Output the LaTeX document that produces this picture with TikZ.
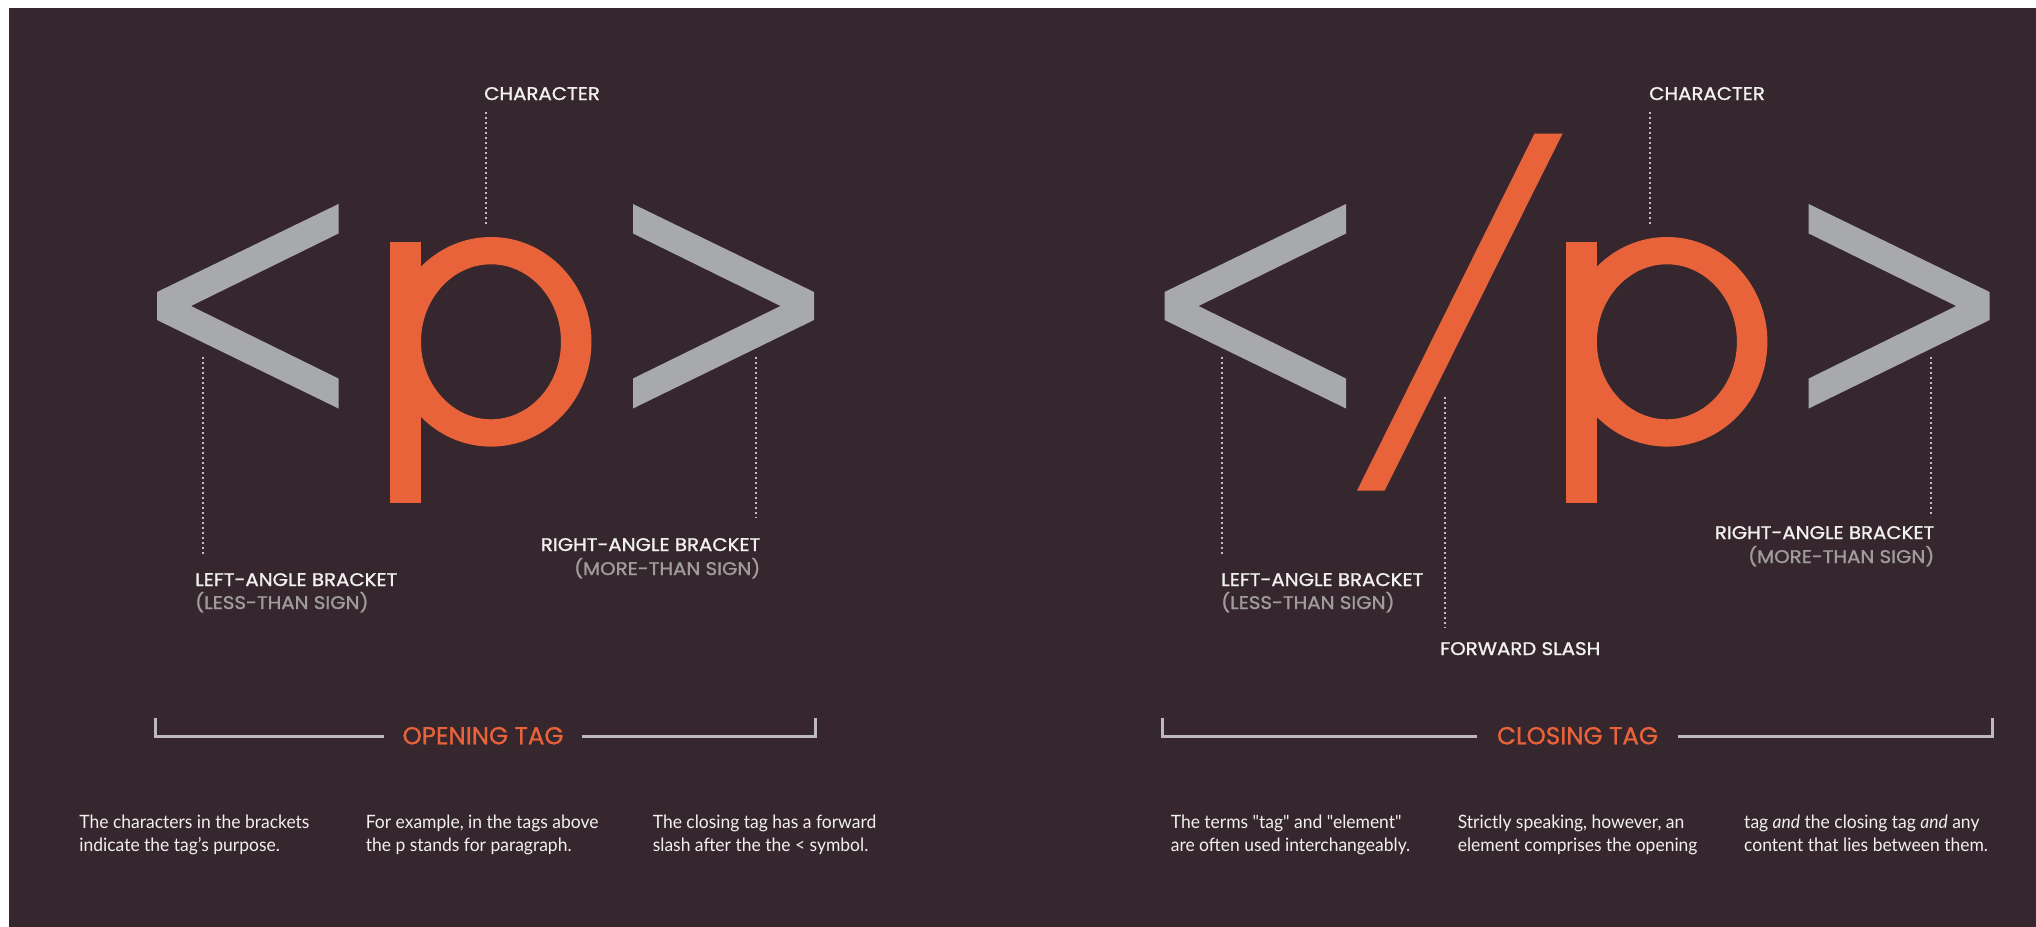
\documentclass[tikz,border=0pt]{standalone}
\usepackage{fontspec}
\setmainfont{Lato}
\newfontfamily\labelfont[FakeStretch=1.08,FakeBold=1.2]{Poppins}
\newfontfamily\tagfont[FakeStretch=1.0,FakeBold=1]{Poppins}
\newfontfamily\bodyfont[FakeStretch=0.95]{Lato}
\definecolor{bgc}{RGB}{53,39,45}
\definecolor{tagorange}{RGB}{232,98,58}
\definecolor{glyphgray}{RGB}{167,169,172}
\definecolor{labelwhite}{RGB}{242,240,240}
\definecolor{subgray}{RGB}{160,156,158}
\definecolor{dotgray}{RGB}{196,192,194}
\definecolor{rulegray}{RGB}{188,186,188}
\begin{document}
\begin{tikzpicture}[x=1pt,y=-1pt,
  glyph/.style={fill=glyphgray},
  mark glyph/.style={fill=tagorange},
  lbl/.style={font=\labelfont\fontsize{18.3}{20}\selectfont, text=labelwhite, inner sep=0pt},
  sublbl/.style={lbl, text=subgray},
  taglbl/.style={font=\tagfont\fontsize{24.5}{26}\selectfont, text=tagorange, text height=16.5pt, text depth=0pt, inner sep=0pt},
  body/.style={font=\bodyfont\fontsize{18.4}{23.4}\selectfont, text=labelwhite, inner sep=0pt, anchor=base west},
  dotline/.style={draw=dotgray, line width=2pt, dash pattern=on 2pt off 3pt},
  tagrule/.style={draw=rulegray, line width=3pt, line join=miter}]
\useasboundingbox (0,0) rectangle (2036,926);
\fill[white] (0,0) rectangle (2036,926);
\fill[bgc] (9,8) rectangle (2036.5,926.5);

% ===== opening tag glyphs =====
\fill[glyph] (338.5,204) -- (338.5,233.5) -- (191,306) -- (338.5,378.5) -- (338.5,408.5) -- (157,320) -- (157,292) -- cycle;
\fill[mark glyph] (389.8,241.7) rectangle (420.8,503.3);
\fill[mark glyph, even odd rule] (491,341.8) ellipse [x radius=100.5, y radius=104.8] (491,341.8) ellipse [x radius=70, y radius=77.5];
\fill[glyph] (633,204) -- (814,292) -- (814,320) -- (633,408.5) -- (633,378.5) -- (780.5,306) -- (633,233.5) -- cycle;

% ===== closing tag glyphs =====
\fill[glyph] (1346,204) -- (1346,233.5) -- (1198.5,306) -- (1346,378.5) -- (1346,408.5) -- (1164.5,320) -- (1164.5,292) -- cycle;
\fill[mark glyph] (1534.5,133.5) -- (1562.6,133.5) -- (1384.7,490.5) -- (1357,490.5) -- cycle;
\fill[mark glyph] (1565.7,241.7) rectangle (1596.7,503.3);
\fill[mark glyph, even odd rule] (1666.9,341.8) ellipse [x radius=100.5, y radius=104.8] (1666.9,341.8) ellipse [x radius=70, y radius=77.5];
\fill[glyph] (1808.7,204) -- (1989.7,292) -- (1989.7,320) -- (1808.7,408.5) -- (1808.7,378.5) -- (1956.2,306) -- (1808.7,233.5) -- cycle;

% ===== opening tag labels =====
\node[lbl, anchor=base west] (ochar) at (484,100) {CHARACTER};
\coordinate (ocharT) at (485.6,112);
\coordinate (ocharB) at (485.6,226.6);
\draw[dotline] (ocharT) -- (ocharB);

\coordinate (olT) at (203,356.7);
\coordinate (olB) at (203,555.7);
\draw[dotline] (olT) -- (olB);
\node[lbl, anchor=base west] (olab) at (195,586) {LEFT-ANGLE BRACKET};
\node[sublbl, anchor=base west] (olsub) at (195,609) {(LESS-THAN SIGN)};

\coordinate (orT) at (755.5,356.7);
\coordinate (orB) at (755.5,517);
\draw[dotline] (orT) -- (orB);
\node[lbl, anchor=base east] (orlab) at (760.5,551) {RIGHT-ANGLE BRACKET};
\node[sublbl, anchor=base east] (orsub) at (760.5,575) {(MORE-THAN SIGN)};

% ===== closing tag labels =====
\node[lbl, anchor=base west] (cchar) at (1649,100) {CHARACTER};
\coordinate (ccharT) at (1650.4,112);
\coordinate (ccharB) at (1650.4,226.6);
\draw[dotline] (ccharT) -- (ccharB);

\coordinate (clT) at (1222.4,356.7);
\coordinate (clB) at (1222.4,555.7);
\draw[dotline] (clT) -- (clB);
\node[lbl, anchor=base west] (clab) at (1221,586) {LEFT-ANGLE BRACKET};
\node[sublbl, anchor=base west] (clsub) at (1221,609) {(LESS-THAN SIGN)};

\coordinate (csT) at (1445,397);
\coordinate (csB) at (1445,628);
\draw[dotline] (csT) -- (csB);
\node[lbl, anchor=base west] (cslab) at (1440,655) {FORWARD SLASH};

\coordinate (crT) at (1931,357);
\coordinate (crB) at (1931,517);
\draw[dotline] (crT) -- (crB);
\node[lbl, anchor=base east] (crlab) at (1934.5,539) {RIGHT-ANGLE BRACKET};
\node[sublbl, anchor=base east] (crsub) at (1934.5,563) {(MORE-THAN SIGN)};

% ===== tag rules =====
\node[taglbl, minimum width=198pt] (otag) at (483,736) {OPENING TAG};
\coordinate (otL) at (155.8,718);
\coordinate (otR) at (815,718);
\draw[tagrule] (otL) |- (otag.west);
\draw[tagrule] (otR) |- (otag.east);

\node[taglbl, minimum width=201pt] (ctag) at (1577.5,736) {CLOSING TAG};
\coordinate (ctL) at (1162,718);
\coordinate (ctR) at (1992,718);
\draw[tagrule] (ctL) |- (ctag.west);
\draw[tagrule] (ctR) |- (ctag.east);

% ===== body texts =====
\node[body] (b1) at (79.2,828) {\begin{tabular}[t]{@{}l@{}}The characters in the brackets\\indicate the tag’s purpose.\end{tabular}};
\node[body] (b2) at (365.6,828) {\begin{tabular}[t]{@{}l@{}}For example, in the tags above\\the p stands for paragraph.\end{tabular}};
\node[body] (b3) at (652.6,828) {\begin{tabular}[t]{@{}l@{}}The closing tag has a forward\\slash after the the < symbol.\end{tabular}};
\node[body] (b4) at (1170.6,828) {\begin{tabular}[t]{@{}l@{}}The terms "tag" and "element"\\are often used interchangeably.\end{tabular}};
\node[body] (b5) at (1457.6,828) {\begin{tabular}[t]{@{}l@{}}Strictly speaking, however, an\\element comprises the opening\end{tabular}};
\node[body] (b6) at (1744,828) {\begin{tabular}[t]{@{}l@{}}tag \textit{and} the closing tag \textit{and} any\\content that lies between them.\end{tabular}};
\end{tikzpicture}
\end{document}
